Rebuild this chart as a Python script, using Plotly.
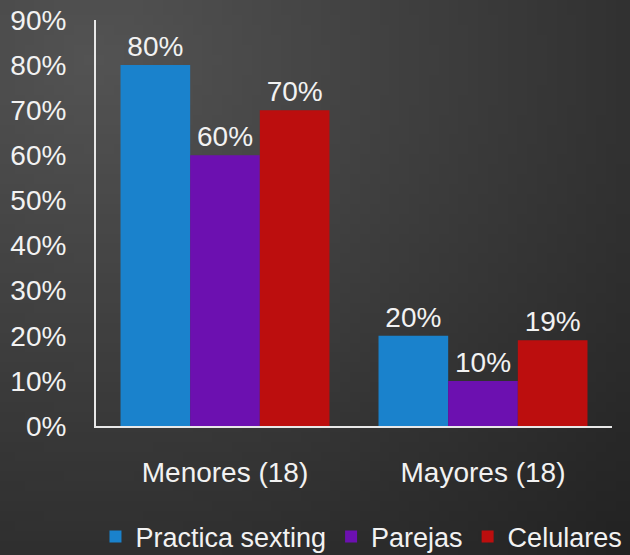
import base64
import struct
import zlib
import plotly.graph_objects as go

categories = ["Menores (18)", "Mayores (18)"]
series_names = ["Practica sexting", "Parejas", "Celulares"]
practica = [0.80, 0.20]
parejas = [0.60, 0.10]
celulares = [0.70, 0.19]
tick_vals = [0, 0.1, 0.2, 0.3, 0.4, 0.5, 0.6, 0.7, 0.8, 0.9]
tick_text = ["0%", "10%", "20%", "30%", "40%", "50%", "60%", "70%", "80%", "90%"]

colors = ["#1a82cc", "#6c10b0", "#bc0e0e"]
values = [practica, parejas, celulares]


def gradient_png(w=64, h=56):
    rows = b""
    for j in range(h):
        row = b"\x00"
        for i in range(w):
            x, y = i / (w - 1), j / (h - 1)
            d = ((x - 0.15) ** 2 + (y - 0.1) ** 2) ** 0.5
            v = int(max(30, min(90, 84 - 40 * d)))
            row += bytes((v, v, v))
        rows += row

    def chunk(tag, data):
        c = struct.pack(">I", len(data)) + tag + data
        return c + struct.pack(">I", zlib.crc32(tag + data) & 0xFFFFFFFF)

    png = b"\x89PNG\r\n\x1a\n"
    png += chunk(b"IHDR", struct.pack(">IIBBBBB", w, h, 8, 2, 0, 0, 0))
    png += chunk(b"IDAT", zlib.compress(rows))
    png += chunk(b"IEND", b"")
    return "data:image/png;base64," + base64.b64encode(png).decode()


W, H = 630, 555
L, R, T, B = 96, 18, 20, 129
pw, ph = W - L - R, H - T - B

FONT = "Liberation Sans, Arial, sans-serif"
fig = go.Figure()
for name, vals, col in zip(series_names, values, colors):
    fig.add_trace(go.Bar(
        x=categories, y=vals, name=name,
        marker=dict(color=col, line=dict(width=0)),
        text=[f"{round(v*100)}%" for v in vals],
        textposition="outside", cliponaxis=False,
        textfont=dict(color="#f2f2f2", size=28, family=FONT),
    ))

fig.update_layout(
    width=W, height=H,
    barmode="group", bargap=0.19, bargroupgap=0,
    paper_bgcolor="#3c3c3c", plot_bgcolor="rgba(0,0,0,0)",
    margin=dict(l=L, r=R, t=T, b=B, autoexpand=False),
    font=dict(family=FONT, color="#f2f2f2", size=28),
    images=[dict(source=gradient_png(), xref="paper", yref="paper",
                 x=-L / pw, y=1 + T / ph, sizex=W / pw, sizey=H / ph,
                 xanchor="left", yanchor="top", sizing="stretch", layer="below")],
    xaxis=dict(showgrid=False, showline=True, linecolor="#e8e8e8", linewidth=2,
               ticks="", tickfont=dict(size=28), ticklabelstandoff=20, automargin=False),
    yaxis=dict(range=[0, 0.9], tickvals=tick_vals, ticktext=tick_text,
               showgrid=False, showline=True, linecolor="#e8e8e8", linewidth=2,
               zeroline=False, ticks="", tickfont=dict(size=28), ticklabelstandoff=22,
               automargin=False),
    legend=dict(orientation="h", x=-0.001, xanchor="left", y=-0.273, yanchor="middle",
                font=dict(size=27), itemwidth=30, tracegroupgap=0,
                bgcolor="rgba(0,0,0,0)"),
    showlegend=True,
)
fig.write_html("out.html", config={"displayModeBar": False},
               post_script="document.body.style.margin='0';document.body.style.overflow='hidden';")
